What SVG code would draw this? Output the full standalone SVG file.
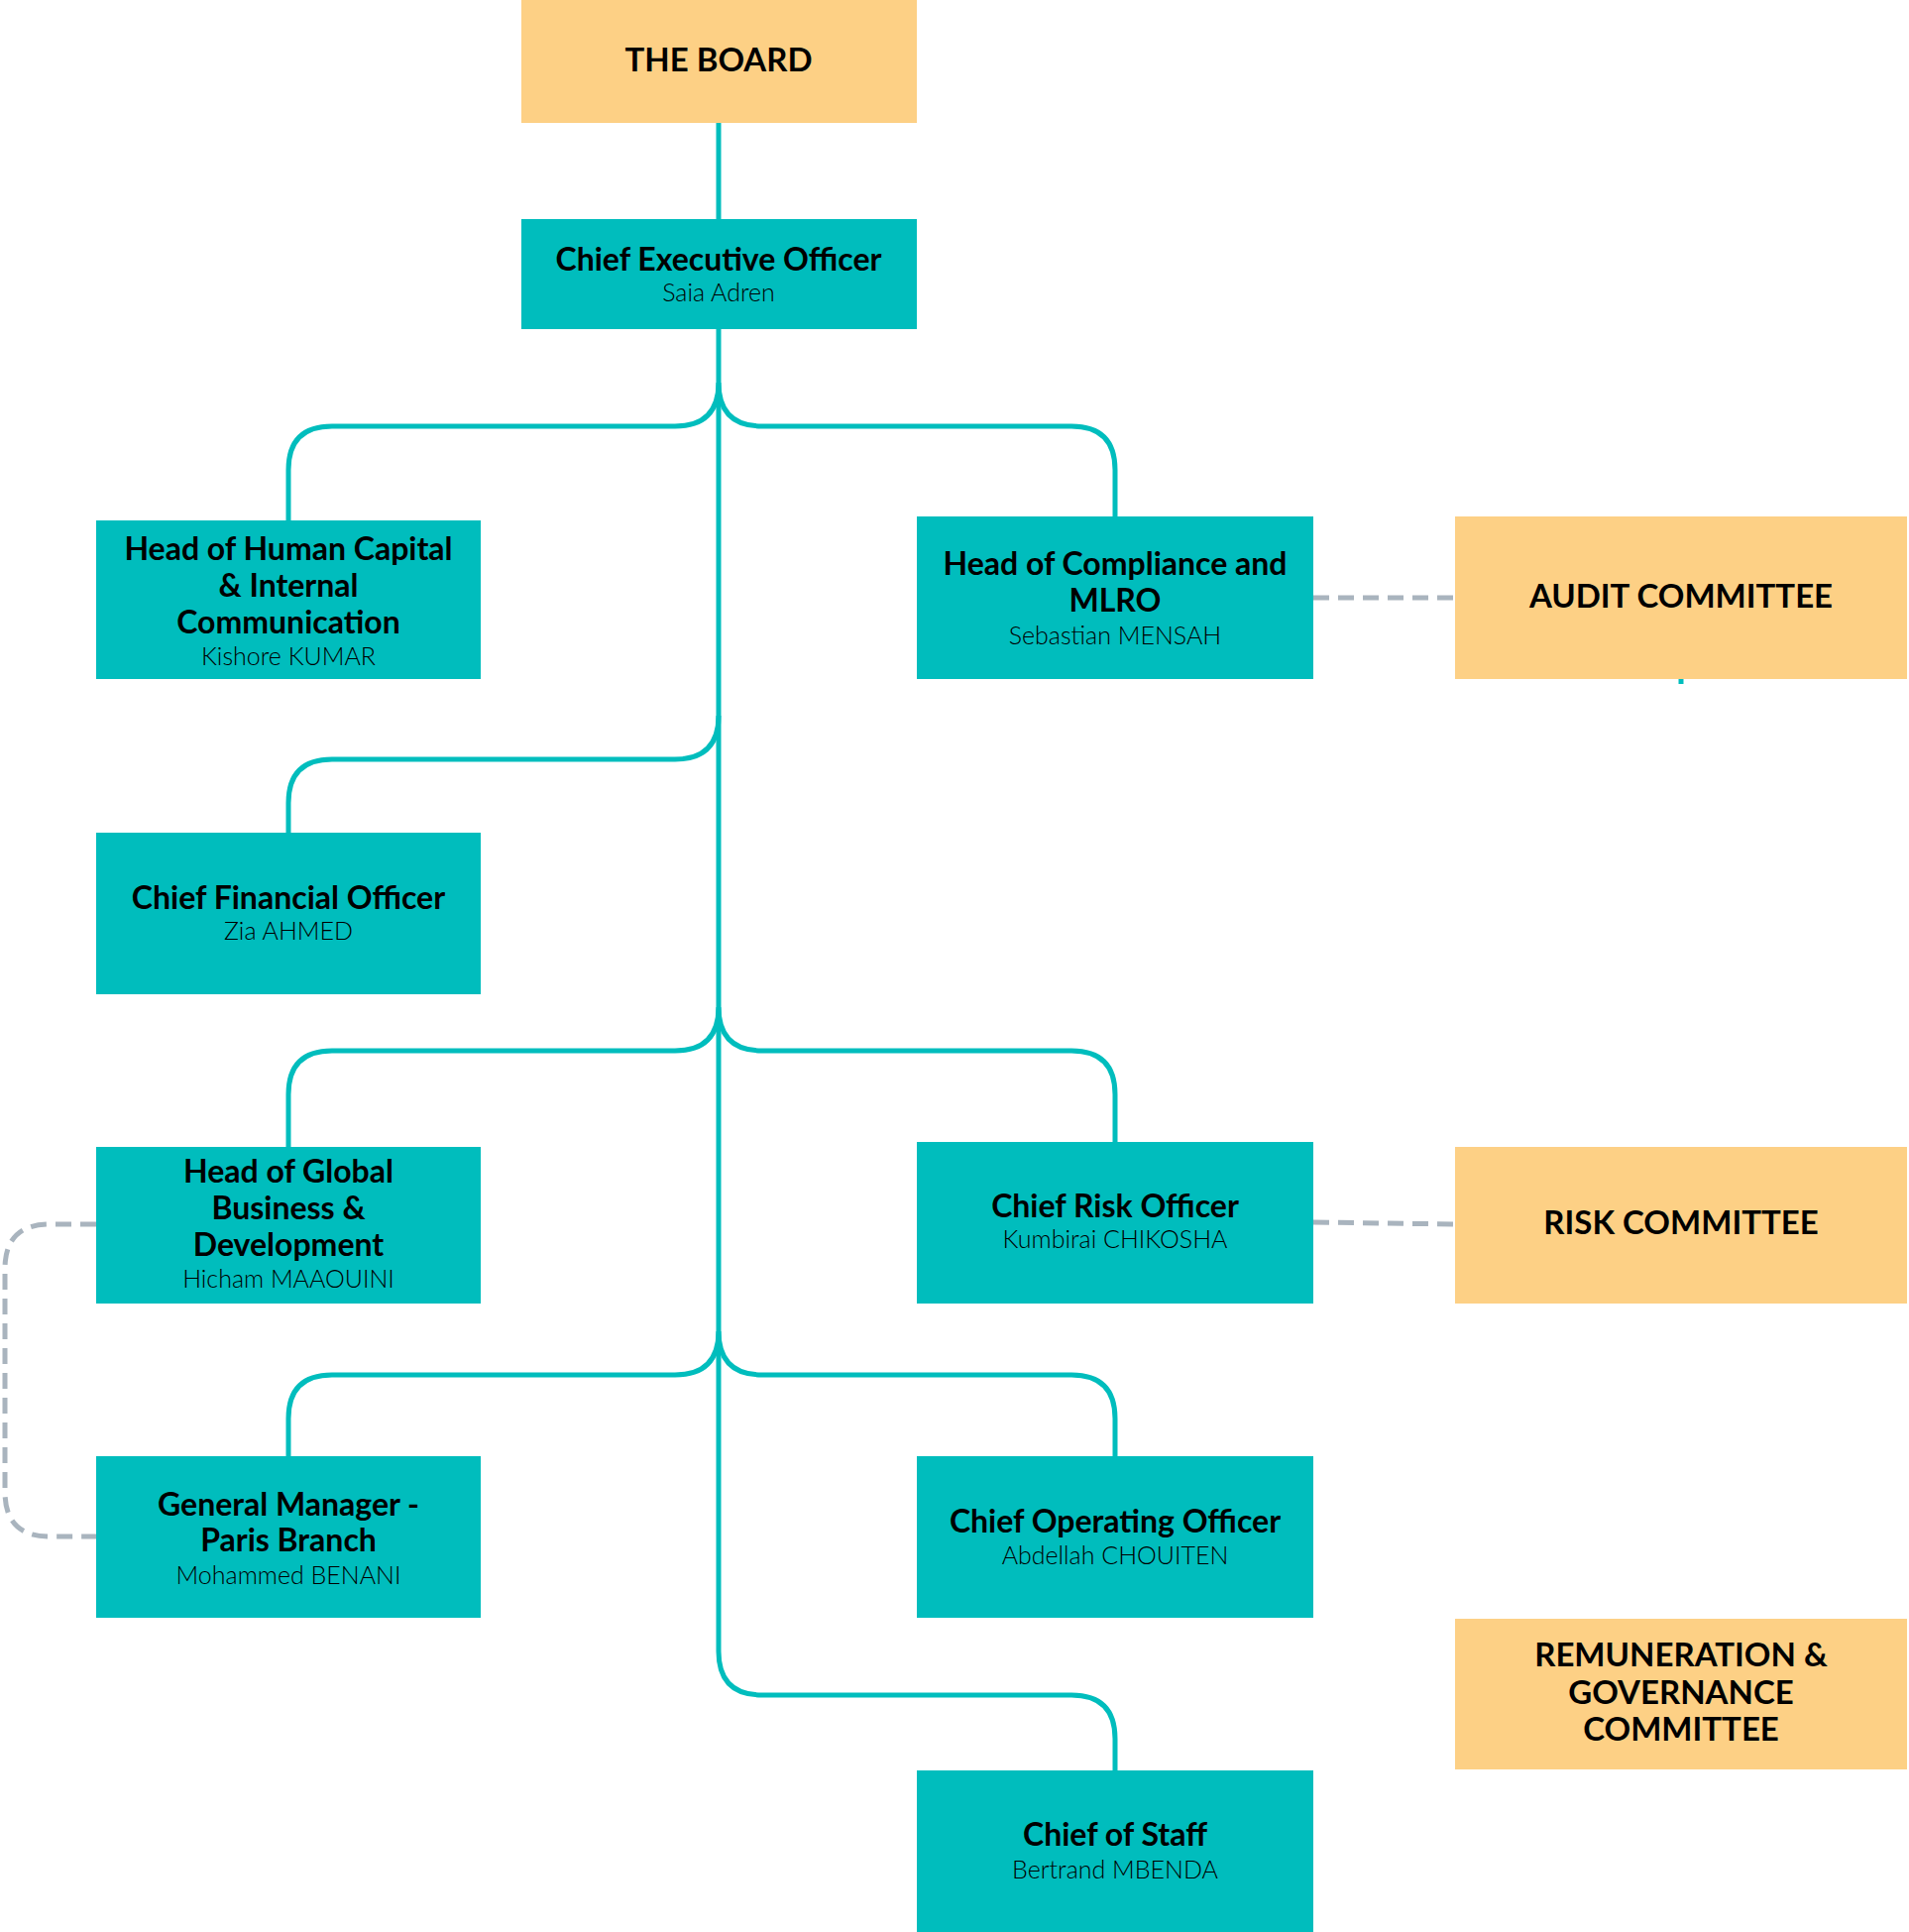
<svg xmlns="http://www.w3.org/2000/svg" width="1926" height="1949" viewBox="0 0 1926 1949">
<style>
.t{fill:#00BDBD}.c{fill:#FDD085}
.h{font-family:Lato,"DejaVu Sans",sans-serif;font-weight:700;font-size:32px;fill:#000;text-anchor:middle}
.n{font-family:Lato,"DejaVu Sans",sans-serif;font-weight:300;font-size:25px;fill:#000;text-anchor:middle}
.k{font-family:Lato,"DejaVu Sans",sans-serif;font-weight:700;font-size:33px;fill:#000;text-anchor:middle}
.l{fill:none;stroke:#00BDBD;stroke-width:5}
.d{fill:none;stroke:#A9B4BE;stroke-width:5;stroke-dasharray:16 9}
</style>
<rect width="1926" height="1949" fill="#fff"/>
<g id="connectors">
<path class="l" d="M725,124 L725,221 M725,332 L725,1666 Q725,1710 769,1710 L1081,1710 Q1125,1710 1125,1754 L1125,1786"/>
<path class="l" d="M725,386 Q725,430 681,430 L335,430 Q291,430 291,474 L291,525 M725,386 Q725,430 769,430 L1081,430 Q1125,430 1125,474 L1125,521"/>
<path class="l" d="M725,722 Q725,766 681,766 L335,766 Q291,766 291,810 L291,840"/>
<path class="l" d="M725,1016 Q725,1060 681,1060 L335,1060 Q291,1060 291,1104 L291,1157 M725,1016 Q725,1060 769,1060 L1081,1060 Q1125,1060 1125,1104 L1125,1152"/>
<path class="l" d="M725,1343 Q725,1387 681,1387 L335,1387 Q291,1387 291,1431 L291,1469 M725,1343 Q725,1387 769,1387 L1081,1387 Q1125,1387 1125,1431 L1125,1469"/>
<path class="l" d="M1696,685 L1696,690"/>
<path class="d" d="M1325,603 L1468,603"/>
<path class="d" d="M1325,1233 L1468,1235"/>
<path class="d" d="M97,1235 L50,1235 Q5,1235 5,1280 L5,1505 Q5,1550 50,1550 L97,1550"/>
</g>
<g id="board"><rect class="c" x="526" y="0" width="399" height="124"/><text class="k" x="725" y="72">THE BOARD</text></g>
<g id="ceo"><rect class="t" x="526" y="221" width="399" height="111"/><text class="h" x="725" y="273">Chief Executive Officer</text><text class="n" x="725" y="304">Saia Adren</text></g>
<g id="hc"><rect class="t" x="97" y="525" width="388" height="160"/><text class="h" x="291" y="565">Head of Human Capital</text><text class="h" x="291" y="602">&amp; Internal</text><text class="h" x="291" y="639">Communication</text><text class="n" x="291" y="671">Kishore KUMAR</text></g>
<g id="compliance"><rect class="t" x="925" y="521" width="400" height="164"/><text class="h" x="1125" y="580">Head of Compliance and</text><text class="h" x="1125" y="617">MLRO</text><text class="n" x="1125" y="650">Sebastian MENSAH</text></g>
<g id="audit"><rect class="c" x="1468" y="521" width="456" height="164"/><text class="k" x="1696" y="613">AUDIT COMMITTEE</text></g>
<g id="cfo"><rect class="t" x="97" y="840" width="388" height="163"/><text class="h" x="291" y="917">Chief Financial Officer</text><text class="n" x="291" y="948">Zia AHMED</text></g>
<g id="global"><rect class="t" x="97" y="1157" width="388" height="158"/><text class="h" x="291" y="1193">Head of Global</text><text class="h" x="291" y="1230">Business &amp;</text><text class="h" x="291" y="1267">Development</text><text class="n" x="291" y="1299">Hicham MAAOUINI</text></g>
<g id="cro"><rect class="t" x="925" y="1152" width="400" height="163"/><text class="h" x="1125" y="1228">Chief Risk Officer</text><text class="n" x="1125" y="1259">Kumbirai CHIKOSHA</text></g>
<g id="risk"><rect class="c" x="1468" y="1157" width="456" height="158"/><text class="k" x="1696" y="1245">RISK COMMITTEE</text></g>
<g id="gm"><rect class="t" x="97" y="1469" width="388" height="163"/><text class="h" x="291" y="1529">General Manager -</text><text class="h" x="291" y="1565">Paris Branch</text><text class="n" x="291" y="1598">Mohammed BENANI</text></g>
<g id="coo"><rect class="t" x="925" y="1469" width="400" height="163"/><text class="h" x="1125" y="1546">Chief Operating Officer</text><text class="n" x="1125" y="1578">Abdellah CHOUITEN</text></g>
<g id="remun"><rect class="c" x="1468" y="1633" width="456" height="152"/><text class="k" x="1696" y="1681">REMUNERATION &amp;</text><text class="k" x="1696" y="1719">GOVERNANCE</text><text class="k" x="1696" y="1756">COMMITTEE</text></g>
<g id="cos"><rect class="t" x="925" y="1786" width="400" height="163"/><text class="h" x="1125" y="1862">Chief of Staff</text><text class="n" x="1125" y="1895">Bertrand MBENDA</text></g>
</svg>
